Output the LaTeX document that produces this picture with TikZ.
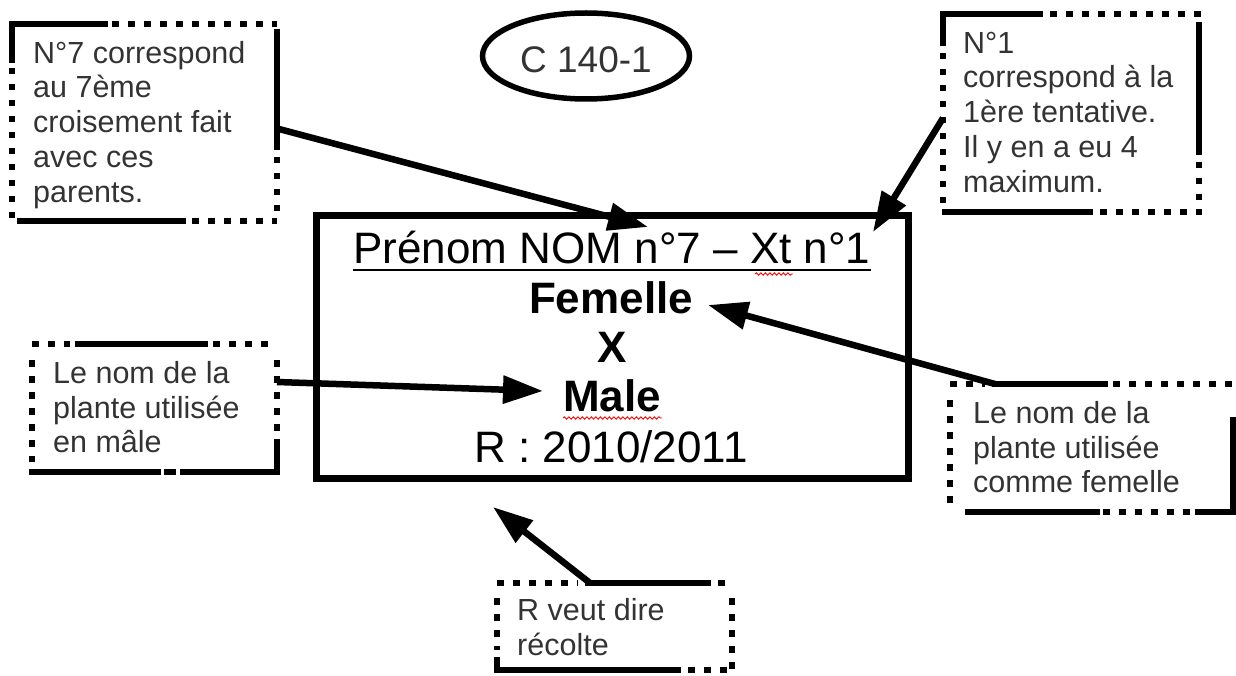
\documentclass[tikz,border=0pt]{standalone}
\usepackage{fontspec}
\setmainfont{Liberation Sans}
\usetikzlibrary{arrows.meta,shapes.geometric,decorations.pathmorphing}
\definecolor{txtgray}{HTML}{333333}
\newcommand{\cstrut}{\rule{0pt}{25pt}}
\begin{document}
\begin{tikzpicture}[x=1pt,y=-1pt,
  solidseg/.style={line width=6.5pt, line cap=rect},
  dotseg/.style={line width=6.5pt, dash pattern=on 6.5pt off 9.5pt},
  conn/.style={line width=6.5pt, -{Triangle[length=40pt,width=27pt]}},
  ctext/.style={anchor=north west, inner sep=0pt, align=left, text=txtgray, font=\fontsize{30.5}{34.8}\selectfont},
  mtext/.style={anchor=base, inner sep=0pt, font=\fontsize{44}{50}\selectfont},
  spell/.style={red, line width=0.9pt, decorate, decoration={snake, amplitude=1.2pt, segment length=4.5pt}}]
\useasboundingbox (0,0) rectangle (1236,676);

% central box
\node[draw, line width=7pt, minimum width=592pt, minimum height=263pt, inner sep=0pt] (main) at (612.5,347) {};
\node[mtext] (t1) at (612,263) {Prénom NOM n°7 – Xt n°1};
\node[mtext] (t2) at (611,313) {\bfseries Femelle};
\node[mtext] (t3) at (612,362) {\bfseries X};
\node[mtext] (t4) at (612,411) {\bfseries Male};
\node[mtext] (t5) at (611,462) {R : 2010/2011};
\draw[line width=2.5pt] ([yshift=-7pt]t1.base west) -- ([yshift=-7pt]t1.base east);
\draw[spell] (755,274) -- (793,274);
\draw[spell] (563,418) -- (662,418);

% ellipse
\node[draw, ellipse, line width=5.5pt, minimum width=207pt, minimum height=86pt, inner sep=0pt,
      text=txtgray, text height=34pt, text depth=0pt, font=\fontsize{37}{40}\selectfont] (code) at (586,56) {C 140-1};

% callout 1
\draw[solidseg] (12,60) -- (12,24) -- (105,24);
\draw[dotseg] (112,24) -- (277,24);
\draw[solidseg] (277,32) -- (277,147);
\draw[dotseg] (277,157) -- (277,221);
\draw[solidseg] (20,221) -- (183,221);
\draw[dotseg] (192,221) -- (277,221);
\draw[dotseg] (12,68) -- (12,221);
\node[ctext] (c1) at (33,38) {\cstrut N°7 correspond\\au 7ème\\croisement fait\\avec ces\\parents.};

% callout 2
\draw[solidseg] (943,43) -- (943,14) -- (1040,14);
\draw[dotseg] (1050,14) -- (1202,14);
\draw[solidseg] (1199,25) -- (1199,152);
\draw[dotseg] (1199,162) -- (1199,212);
\draw[solidseg] (945,212) -- (1090,212);
\draw[dotseg] (1100,212) -- (1202,212);
\draw[dotseg] (943,53) -- (943,212);
\node[ctext] (c2) at (963,28) {\cstrut N°1\\correspond à la\\1ère tentative.\\Il y en a eu 4\\maximum.};

% callout 3
\draw[dotseg] (32,344) -- (70,344);
\draw[solidseg] (78,344) -- (205,344);
\draw[dotseg] (213,344) -- (277,344);
\draw[dotseg] (277,360) -- (277,435);
\draw[solidseg] (277,442) -- (277,472) -- (183,472);
\draw[solidseg] (32,472) -- (158,472);
\draw[solidseg] (167,472) -- (173,472);
\draw[dotseg] (32,360) -- (32,462);
\node[ctext] (c3) at (53,358) {\cstrut Le nom de la\\plante utilisée\\en mâle};

% callout 4
\draw[dotseg] (950,384) -- (985,384);
\draw[solidseg] (995,384) -- (1105,384);
\draw[dotseg] (1113,384) -- (1233,384);
\draw[solidseg] (1233,420) -- (1233,512) -- (1198,512);
\draw[dotseg] (1103,512) -- (1190,512);
\draw[solidseg] (968,512) -- (1097,512);
\draw[dotseg] (950,400) -- (950,512);
\node[ctext] (c4) at (973,398) {\cstrut Le nom de la\\plante utilisée\\comme femelle};

% callout 5
\draw[dotseg] (497,583) -- (578,583);
\draw[solidseg] (588,583) -- (708,583);
\draw[dotseg] (718,583) -- (732,583);
\draw[dotseg] (732,598) -- (732,670);
\draw[solidseg] (497,660) -- (497,670) -- (678,670);
\draw[dotseg] (688,670) -- (732,670);
\draw[dotseg] (497,598) -- (497,650);
\node[ctext] (c5) at (517,595) {\cstrut R veut dire\\récolte};

% connectors
\coordinate (s1) at (279,129);   \coordinate (e1) at (648,227);
\coordinate (s2) at (943,118);   \coordinate (e2) at (873,232);
\coordinate (s3) at (995,384);   \coordinate (e3) at (708,305);
\coordinate (s4) at (277,382);   \coordinate (e4) at (543,391);
\coordinate (s5) at (590,583);   \coordinate (e5) at (493,507);
\draw[conn] (s1) -- (e1);
\draw[conn] (s2) -- (e2);
\draw[conn] (s3) -- (e3);
\draw[conn] (s4) -- (e4);
\draw[conn] (s5) -- (e5);
\end{tikzpicture}
\end{document}
